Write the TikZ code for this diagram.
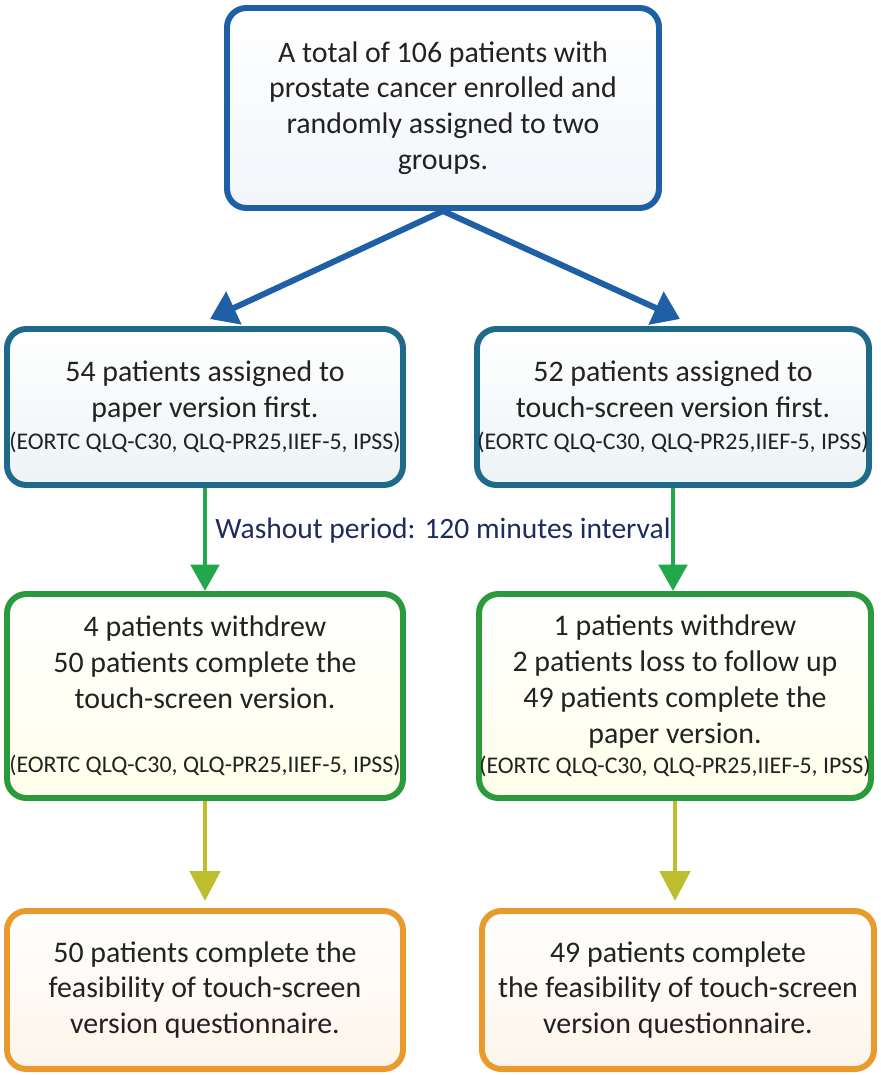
\documentclass[tikz,border=0pt]{standalone}
\usepackage{fontspec}
\setmainfont{Carlito}
\usepackage{tikz}
\usetikzlibrary{positioning, shapes, arrows.meta, calc}

\definecolor{topblue}{HTML}{1F5FA6}
\definecolor{tealblue}{HTML}{1E6A8A}
\definecolor{boxgreen}{HTML}{2A9A3C}
\definecolor{boxorange}{HTML}{E99A2C}
\definecolor{arrgreen}{HTML}{22A84B}
\definecolor{arrolive}{HTML}{BDBE2E}
\definecolor{washnavy}{HTML}{1D2B5E}
\definecolor{txtgray}{HTML}{222222}

\tikzset{
  stagebox/.style={draw, rounded corners=11pt, line width=3.4pt, align=center,
    text=txtgray, font=\fontsize{17}{20.4}\selectfont, inner sep=0pt},
  main/.style={stagebox, draw=topblue, top color=white, bottom color=topblue!6},
  assign/.style={stagebox, draw=tealblue, top color=white, bottom color=tealblue!8},
  visit/.style={stagebox, draw=boxgreen, top color=white, bottom color=yellow!8},
  final/.style={stagebox, draw=boxorange, top color=white, bottom color=boxorange!10},
  blueflow/.style={draw=topblue, line width=3.4pt, -{Triangle[width=20pt,length=15pt]}},
  greenflow/.style={draw=arrgreen, line width=2.8pt, -{Triangle[width=16pt,length=15pt]}},
  oliveflow/.style={draw=arrolive, line width=2.8pt, -{Triangle[width=17pt,length=17pt]}},
}
\newcommand{\scales}{{\fontsize{13.6}{16}\selectfont (EORTC QLQ-C30, QLQ-PR25,IIEF-5, IPSS)}}

\begin{document}
\begin{tikzpicture}[x=0.02cm, y=-0.02cm]
  \useasboundingbox (0,0) rectangle (880,1075);

  % Nodes
  \node[main, minimum width=432*0.02cm, minimum height=200*0.02cm] (total) at (443,108)
    {A total of 106 patients with\\ prostate cancer enrolled and\\ randomly assigned to two\\ groups.};

  \node[assign, minimum width=396*0.02cm, minimum height=156*0.02cm] (paper) at (205,407)
    {54 patients assigned to\\ paper version first.\\[-2pt] \scales};
  \node[assign, minimum width=392*0.02cm, minimum height=156*0.02cm] (touch) at (673,407)
    {52 patients assigned to\\ touch-screen version first.\\[-2pt] \scales};

  \node[visit, minimum width=396*0.02cm, minimum height=204*0.02cm] (withl) at (205,696)
    {4 patients withdrew\\ 50 patients complete the\\ touch-screen version.\\[16pt] \scales};
  \node[visit, minimum width=392*0.02cm, minimum height=204*0.02cm] (withr) at (675,696)
    {1 patients withdrew\\ 2 patients loss to follow up\\ 49 patients complete the\\ paper version.\\[-3pt] \scales};

  \node[final, minimum width=396*0.02cm, minimum height=158*0.02cm] (donel) at (205,990)
    {50 patients complete the\\ feasibility of touch-screen\\ version questionnaire.};
  \node[final, minimum width=392*0.02cm, minimum height=158*0.02cm] (doner) at (678,990)
    {49 patients complete\\ the feasibility of touch-screen\\ version questionnaire.};

  \node[text=washnavy, font=\fontsize{16.8}{19}\selectfont] (washout) at (443,531)
    {Washout period: 120 minutes interval};

  % Arrows
  \draw[blueflow] (total.south) -- ($(paper.north)+(5,-7)$);
  \draw[blueflow] (total.south) -- ($(touch.north)+(7,-7)$);
  \draw[greenflow] (paper.south) -- (withl.north);
  \draw[greenflow] (touch.south) -- (withl.north -| touch.south);
  \draw[oliveflow] (withl.south) -- ([yshift=4pt]donel.north -| withl.south);
  \draw[oliveflow] (withr.south) -- ([yshift=4pt]doner.north -| withr.south);
\end{tikzpicture}
\end{document}
